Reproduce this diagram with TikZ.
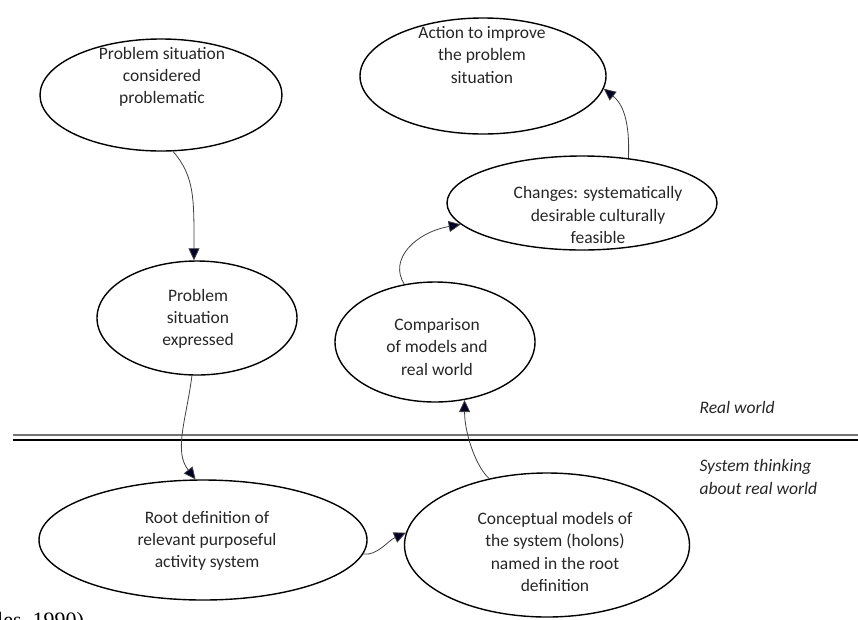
\documentclass[tikz,border=0pt]{standalone}
\usepackage{fontspec}
\setmainfont{Carlito}
\newfontfamily\capfont{Liberation Serif}
\usetikzlibrary{shapes.geometric,arrows.meta}

\tikzset{
  bubble/.style={draw, ellipse, line width=1.4pt, inner sep=0pt},
  txt/.style={align=center, font=\fontsize{17.5}{22.3}\selectfont, text=black!85},
  flow/.style={draw=black!75, line width=0.8pt,
    -{Triangle[length=12pt,width=11pt,fill=black!85!blue]}},
}

\begin{document}
\begin{tikzpicture}[x=1pt,y=-1pt]
        \useasboundingbox (0,0) rectangle (858,619);

        % ellipses of the real world
        \node[bubble, minimum width=242, minimum height=112] (sit) at (161,95) {};
        \node[bubble, minimum width=246, minimum height=116] (act) at (483,76) {};
        \node[bubble, minimum width=270, minimum height=94] (chg) at (582,203) {};
        \node[bubble, minimum width=200, minimum height=114] (expr) at (197,318) {};
        \node[bubble, minimum width=200, minimum height=120] (cmp) at (435,342) {};

        % ellipses of system thinking
        \node[bubble, minimum width=328, minimum height=120] (rootdef) at (203,540) {};
        \node[bubble, minimum width=285, minimum height=144] (concept) at (547,545) {};

        \node[txt] (sitT) at (162,77) {Problem situation\\considered\\problematic};
        \node[txt] (actT) at (482,55) {Action to improve\\the problem\\situation};
        \node[txt] (chgT) at (598,215) {Changes: systematically\\desirable culturally\\feasible};
        \node[txt] (exprT) at (198,319) {Problem\\situation\\expressed};
        \node[txt] (cmpT) at (437,347) {Comparison\\of models and\\real world};
        \node[txt] (rootdefT) at (207,541) {Root definition of\\relevant purposeful\\activity system};
        \node[txt] (conceptT) at (555,552) {Conceptual models of\\the system (holons)\\named in the root\\definition};

        % divide
        \draw[black!55, line width=1.6pt] (13,435) -- (858,435);
        \draw[black, line width=1.6pt] (13,440) -- (858,440);

        \node[txt, font=\fontsize{17.5}{22.3}\itshape, anchor=west] (rw) at (696,407) {Real world};
        \node[txt, font=\fontsize{17.5}{23}\itshape, align=left, anchor=west] (st) at (696,477) {System thinking\\about real world};

        \node[font=\capfont\fontsize{22}{22}\selectfont, anchor=base west, inner sep=0pt] (src) at (-3,627) {les, 1990)};

        \draw[flow] (sit.282) .. controls +(22,25) and +(0,-60) .. (expr.93);
        \draw[flow] (expr.265) .. controls +(-6,45) and +(-22,-28) .. (rootdef.97);
        \draw[flow] (rootdef.-5) .. controls +(14,2) and +(-18,8) .. (concept.175);
        \draw[flow] (concept.131) .. controls +(-12,-10) and +(0,35) .. (cmp.297);
        \draw[flow] (cmp.118) .. controls +(-16,-25) and +(-45,8) .. (chg.190);
        \draw[flow] (chg.44) .. controls +(2,-45) and +(15,12) .. (act.-6);
    \end{tikzpicture}
\end{document}
